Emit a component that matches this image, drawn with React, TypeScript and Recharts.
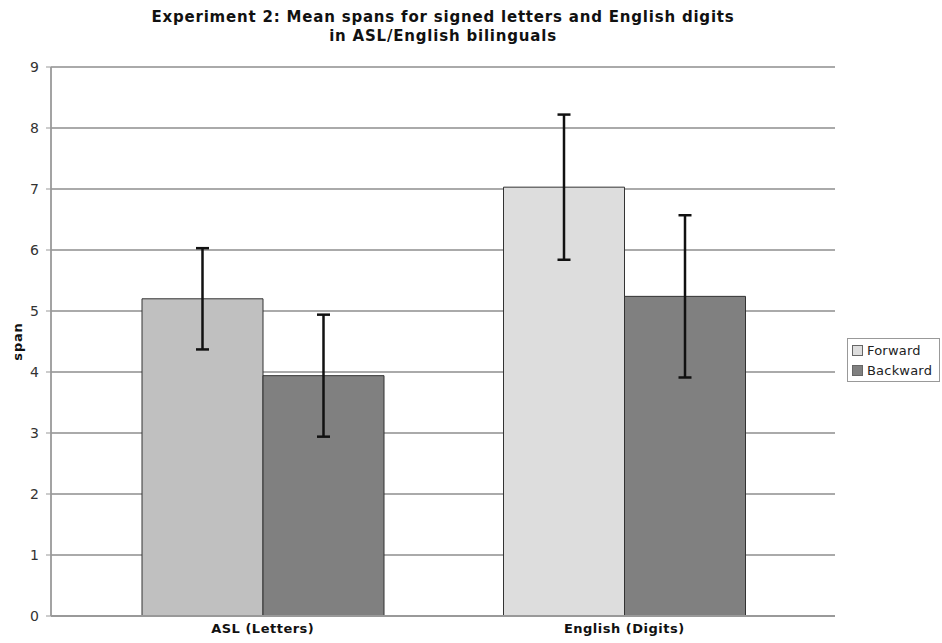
import { BarChart, Bar, XAxis, YAxis, CartesianGrid, ErrorBar, Cell } from "recharts";

const categories = ["ASL (Letters)", "English (Digits)"];
const forward = [5.2, 7.03];
const backward = [3.94, 5.24];
const forwardErr = [0.83, 1.19];
const backwardErr = [1.0, 1.33];
const yTicks = [0, 1, 2, 3, 4, 5, 6, 7, 8, 9];

const forwardFills = ["#c0c0c0", "#dddddd"];
const backwardFill = "#808080";

const data = categories.map((name, i) => ({
  name,
  forward: forward[i],
  backward: backward[i],
  forwardErr: forwardErr[i],
  backwardErr: backwardErr[i],
}));

const font = "'DejaVu Sans', Verdana, sans-serif";

function LegendBox() {
  const items = [
    { label: "Forward", color: "#dddddd" },
    { label: "Backward", color: backwardFill },
  ];
  return (
    <div
      style={{
        position: "absolute",
        left: 847,
        top: 338,
        width: 84,
        border: "1px solid #999",
        padding: "1px 3px 1px 4px",
        fontFamily: font,
        fontSize: 13,
        letterSpacing: 0.2,
        color: "#222",
        background: "#fff",
      }}
    >
      {items.map((it) => (
        <div key={it.label} style={{ display: "flex", alignItems: "center", height: 20 }}>
          <span
            style={{
              display: "inline-block",
              width: 9,
              height: 9,
              background: it.color,
              border: "1px solid #666",
              marginRight: 4,
            }}
          />
          {it.label}
        </div>
      ))}
    </div>
  );
}

export default function App() {
  return (
    <div style={{ position: "absolute", left: 0, top: 0, width: 942, height: 643, background: "#fff" }}>
      <div
        style={{
          position: "absolute",
          left: 0,
          top: 8,
          width: 886,
          textAlign: "center",
          fontFamily: font,
          fontWeight: "bold",
          fontSize: 15,
          letterSpacing: 0.8,
          lineHeight: "19px",
          color: "#111",
        }}
      >
        Experiment 2: Mean spans for signed letters and English digits
        <br />
        in ASL/English bilinguals
      </div>
      <BarChart
        width={942}
        height={643}
        data={data}
        margin={{ top: 67, right: 107, bottom: 0, left: 0 }}
        barCategoryGap={60}
        barGap={0}
      >
        <CartesianGrid horizontal vertical={false} stroke="#aaa" strokeWidth={1.8} />
        <XAxis
          dataKey="name"
          height={27}
          padding={{ left: 31, right: 30 }}
          tickLine={false}
          axisLine={{ stroke: "#999", strokeWidth: 1.8 }}
          tick={{ fill: "#111", fontFamily: font, fontSize: 13, fontWeight: "bold", letterSpacing: 0.5 }}
        />
        <YAxis
          width={51}
          domain={[0, 9]}
          ticks={yTicks}
          interval={0}
          tickSize={5}
          tickMargin={7}
          axisLine={{ stroke: "#999", strokeWidth: 1.8 }}
          tickLine={{ stroke: "#999" }}
          tick={{ fill: "#333", fontFamily: font, fontSize: 14 }}
          label={{
            value: "span",
            angle: -90,
            position: "insideLeft",
            offset: 17,
            style: {
              textAnchor: "middle",
              fontFamily: font,
              fontSize: 13,
              fontWeight: "bold",
              letterSpacing: 0.8,
              fill: "#111",
            },
          }}
        />
        <Bar dataKey="forward" name="Forward" stroke="#333" strokeWidth={1} isAnimationActive={false}>
          {data.map((d, i) => (
            <Cell key={d.name} fill={forwardFills[i]} />
          ))}
          <ErrorBar dataKey="forwardErr" width={6.5} strokeWidth={2.5} stroke="#111" />
        </Bar>
        <Bar dataKey="backward" name="Backward" fill={backwardFill} stroke="#333" strokeWidth={1} isAnimationActive={false}>
          <ErrorBar dataKey="backwardErr" width={6.5} strokeWidth={2.5} stroke="#111" />
        </Bar>
      </BarChart>
      <LegendBox />
    </div>
  );
}
